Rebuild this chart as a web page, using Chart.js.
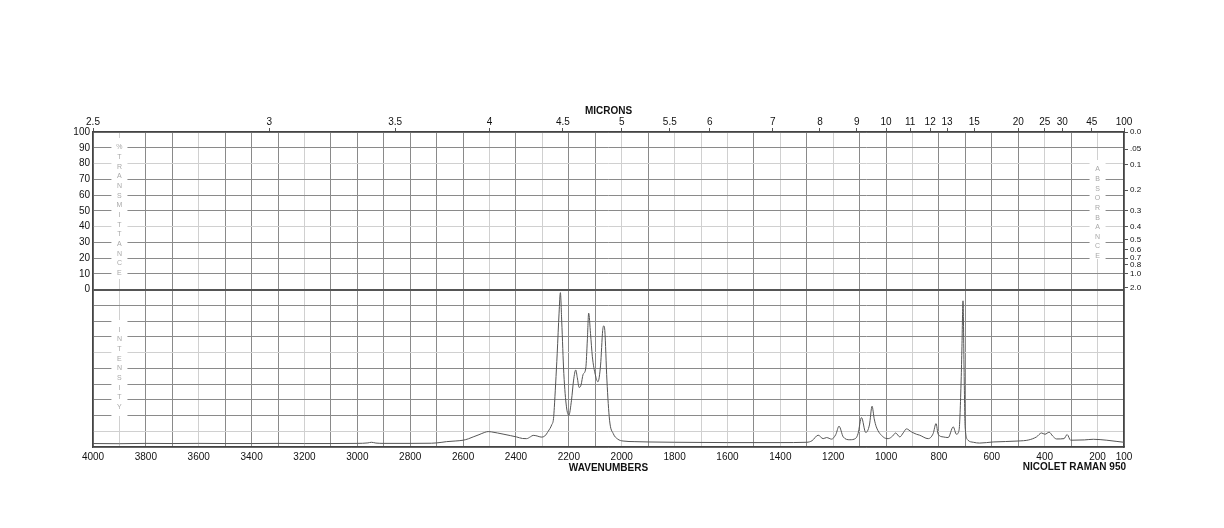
<!DOCTYPE html>
<html>
<head>
<meta charset="utf-8">
<script src="https://cdn.jsdelivr.net/npm/chart.js@4/dist/chart.umd.min.js"></script>
<style>
  html, body { margin: 0; padding: 0; background: #fff; }
  #wrap { width: 1224px; height: 528px; }
</style>
</head>
<body>
<div id="wrap"><canvas id="c" width="1224" height="528"></canvas></div>
<script>
// ---- data ----
const wavenumbers = [4000,3900,3800,3700,3600,3500,3400,3300,3200,3100,3000,2960,2947,2930,2900,2800,2720,2700,2680,2663,2630,2600,2580,2562,2540,2518,2505,2493,2470,2449,2420,2398,2375,2360,2345,2335,2320,2305,2291,2278,2265,2258,2255,2250,2244,2237,2232,2227,2219,2209,2200,2190,2182,2174,2168,2161,2154,2146,2136,2130,2125,2118,2111,2100,2090,2080,2072,2068,2064,2056,2046,2032,2015,1995,1950,1900,1800,1700,1600,1500,1400,1300,1280,1257,1238,1225,1206,1190,1178,1162,1137,1115,1106,1093,1077,1063,1053,1045,1037,1011,992,975,964,948,935,923,904,885,873,841,822,811,803,784,765,746,734,724,716,713,709,705,701,690,670,646,595,500,460,431,412,399,383,370,355,327,315,302,250,216,165,130,100];
const intensity = [2.2,2.1,2.3,2.2,2.3,2.2,2.2,2.3,2.2,2.2,2.3,2.6,3.0,2.5,2.3,2.3,2.4,2.6,3.0,3.4,3.8,4.3,5.2,6.4,7.8,9.3,9.8,9.6,8.9,8.2,7.2,6.4,5.4,5.3,6.5,7.4,7.0,6.3,7.0,10.0,14,18,25,40,59.5,85,98,80,46.7,25.5,20.2,29.7,42.5,48.9,44,37.8,39.3,46.1,50,68,85,72,57.3,46,41.4,52,74,76.9,74,42.5,17,8.5,5.0,3.8,3.4,3.2,3.0,2.9,2.8,2.8,2.8,3.0,4.0,7.5,5.3,6.0,5.0,8.0,13.2,6.4,4.6,5.5,8.5,18.7,9.2,14,25.9,18,12.8,6.4,5.3,7.0,8.9,6.4,9,11.5,9.6,8.1,7.5,5.3,8.5,14.9,8.1,6.4,6.0,12.8,8.1,10.6,42.5,63.7,92.8,50,12.8,4.3,3.0,2.5,3.2,3.8,4.5,6.4,8.9,8.1,9.4,7.0,5.1,5.3,7.9,4.3,4.5,4.9,4.3,3.6,3.0];

const micronLabels = [2.5,3,3.5,4,4.5,5,5.5,6,7,8,9,10,11,12,13,15,20,25,30,45,100];
const wavenumberTicks = []; for (let w = 100; w <= 4000; w += 100) wavenumberTicks.push(w);
const absorbanceLabels = ['0.0','.05','0.1','0.2','0.3','0.4','0.5','0.6','0.7','0.8','1.0','2.0'];
const absorbanceValues = [0,0.05,0.1,0.2,0.3,0.4,0.5,0.6,0.7,0.8,1.0,2.0];

// ---- styling helpers ----
const lightX = new Set([3900,3600,3200,2500,2300,2000,1800,1700,1600,1400,1200,900,400,200]);
const lightY = new Set([180,140,60,10]);
const DARK = '#8a8a8a', LIGHT = '#d0d0d0';
const FONT = '"Liberation Sans", Arial, Helvetica, sans-serif';

const letterPlugin = {
  id: 'letters',
  afterDatasetsDraw(chart) {
    const ctx = chart.ctx;
    const x = chart.scales.x;
    const y = chart.scales.y;
    function column(xv, yTopVal, text, gapTop, gapBot) {
      const px = x.getPixelForValue(xv);
      const yTop = y.getPixelForValue(yTopVal);
      ctx.save();
      ctx.fillStyle = '#fff';
      ctx.fillRect(px - 8, gapTop, 16, gapBot - gapTop);
      ctx.fillStyle = '#a8a8a8';
      ctx.font = '7px ' + FONT;
      ctx.textAlign = 'center';
      ctx.textBaseline = 'middle';
      for (let i = 0; i < text.length; i++) {
        ctx.fillText(text[i], px, yTop + i * 9.65);
      }
      ctx.restore();
    }
    column(3900, 190.2, '%TRANSMITTANCE', 138, 279);
    column(3900, 74.5, 'INTENSITY', 320, 416);
    column(200, 176.3, 'ABSORBANCE', 160, 259);
    // instrument name
    ctx.save();
    ctx.fillStyle = '#111';
    ctx.font = 'bold 10px ' + FONT;
    ctx.textAlign = 'right';
    ctx.textBaseline = 'middle';
    ctx.fillText('NICOLET RAMAN 950', 1126, 467.5);
    ctx.restore();
  }
};

new Chart(document.getElementById('c'), {
  type: 'line',
  data: {
    datasets: [{
      data: wavenumbers.map((w, i) => ({ x: w, y: intensity[i] })),
      borderColor: '#555',
      borderWidth: 1,
      pointRadius: 0,
      cubicInterpolationMode: 'monotone',
      fill: false
    }]
  },
  options: {
    responsive: false,
    animation: false,
    events: [],
    layout: { padding: { top: 105, bottom: 54, left: 0, right: 0 } },
    plugins: { legend: { display: false }, tooltip: { enabled: false } },
    scales: {
      x: {
        type: 'linear', position: 'bottom', reverse: true, min: 100, max: 4000,
        afterBuildTicks: s => { s.ticks = wavenumberTicks.map(v => ({ value: v })); },
        afterFit: s => { s.height = 27; },
        ticks: {
          autoSkip: false, maxRotation: 0, padding: 4, color: '#111',
          font: { family: FONT, size: 10 },
          callback: v => (v % 200 === 0 || v === 100) ? String(v) : ''
        },
        grid: {
          drawTicks: false,
          color: c => lightX.has(c.tick && c.tick.value) ? LIGHT : DARK,
          lineWidth: 1
        },
        border: { display: true, color: '#444', width: 1.5 },
        title: { display: true, text: 'WAVENUMBERS', padding: 0, color: '#111', font: { family: FONT, size: 10, weight: 'bold' } }
      },
      x2: {
        type: 'linear', position: 'top', reverse: true, min: 100, max: 4000,
        afterBuildTicks: s => { s.ticks = micronLabels.map(m => ({ value: 10000 / m })); },
        afterFit: s => { s.height = 27; },
        ticks: {
          autoSkip: false, maxRotation: 0, padding: 0, color: '#111',
          font: { family: FONT, size: 10 },
          callback: v => String(Math.round(100000 / v) / 10)
        },
        grid: { drawOnChartArea: false, drawTicks: true, tickLength: 4, color: '#555' },
        border: { display: true, color: '#444', width: 1.5 },
        title: { display: true, text: 'MICRONS', padding: 0, color: '#111', font: { family: FONT, size: 10, weight: 'bold' } }
      },
      y: {
        type: 'linear', position: 'left', min: 0, max: 200,
        afterBuildTicks: s => { const t = []; for (let v = 0; v <= 200; v += 10) t.push({ value: v }); s.ticks = t; },
        afterFit: s => { s.width = 93; },
        ticks: {
          autoSkip: false, padding: 3, color: '#111',
          font: { family: FONT, size: 10 },
          callback: v => v >= 100 ? String(v - 100) : ''
        },
        grid: {
          drawTicks: false,
          color: c => {
            const v = c.tick && c.tick.value;
            if (v === 100) return '#555';
            return lightY.has(v) ? LIGHT : DARK;
          },
          lineWidth: c => (c.tick && c.tick.value === 100) ? 2 : 1
        },
        border: { display: true, color: '#444', width: 1.5 }
      },
      y2: {
        type: 'linear', position: 'right', min: 0, max: 200,
        afterBuildTicks: s => { s.ticks = absorbanceValues.map(a => ({ value: 100 + 100 * Math.pow(10, -a) })); },
        afterFit: s => { s.width = 100; },
        ticks: {
          autoSkip: false, padding: 2, color: '#111',
          font: { family: FONT, size: 8 },
          callback: (v, i) => absorbanceLabels[i]
        },
        grid: { drawOnChartArea: false, drawTicks: true, tickLength: 4, color: '#555' },
        border: { display: true, color: '#444', width: 1.5 }
      }
    }
  },
  plugins: [letterPlugin]
});
</script>
</body>
</html>
